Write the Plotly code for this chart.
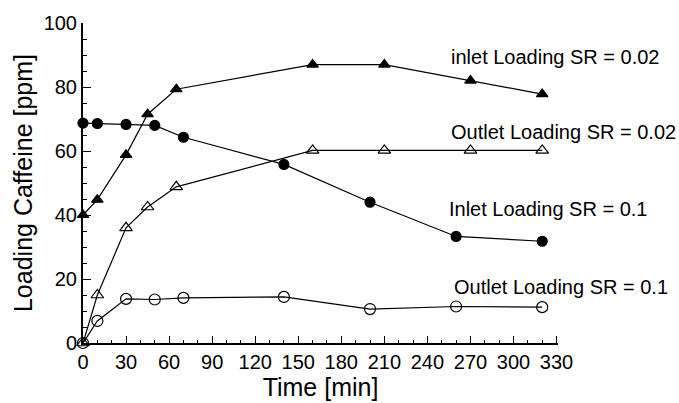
import plotly.graph_objects as go

t_tri = [0, 10, 30, 45, 65, 160, 210, 270, 320]
inlet_sr002 = [40, 44.8, 58.8, 71.5, 79.3, 87, 87, 82, 77.8]
outlet_sr002 = [0, 15, 36, 42.5, 48.8, 60.2, 60.2, 60.2, 60.2]

t_circ = [0, 10, 30, 50, 70, 140, 200, 260, 320]
inlet_sr01 = [68.7, 68.6, 68.3, 68, 64.3, 55.8, 44, 33.3, 31.8]
outlet_sr01 = [0, 6.9, 13.8, 13.6, 14.1, 14.4, 10.6, 11.4, 11.2]

labels = ["inlet Loading SR = 0.02", "Outlet Loading SR = 0.02",
          "Inlet Loading SR = 0.1", "Outlet Loading SR = 0.1"]
label_x = [255, 255, 253.5, 257]
label_y = [89.4, 65.9, 41.9, 17.5]

x_ticks = list(range(0, 331, 30))
y_ticks = list(range(0, 101, 20))

FONT = "Liberation Sans, Arial, sans-serif"

fig = go.Figure()

def add(x, y, symbol, size):
    fig.add_trace(go.Scatter(
        x=x, y=y, mode="lines+markers", cliponaxis=False,
        line=dict(color="black", width=1.2),
        marker=dict(symbol=symbol, size=size, color="black",
                    line=dict(color="black", width=1.2)),
        showlegend=False))

add(t_tri, inlet_sr002, "triangle-up", 10)
add(t_tri, outlet_sr002, "triangle-up-open", 11)
add(t_circ, inlet_sr01, "circle", 10)
add(t_circ, outlet_sr01, "circle-open", 11)

for txt, lx, ly in zip(labels, label_x, label_y):
    fig.add_annotation(x=lx, y=ly, xref="x", yref="y", text=txt,
                       showarrow=False, xanchor="left", yanchor="middle",
                       font=dict(family=FONT, size=20, color="black"))

fig.update_layout(
    width=679, height=403,
    margin=dict(l=83, r=121, t=23, b=60),
    paper_bgcolor="white", plot_bgcolor="white",
    font=dict(family=FONT, color="black"),
    xaxis=dict(range=[0, 331], tickvals=x_ticks, ticks="inside",
               ticklen=7, tickwidth=1, tickcolor="black",
               minor=dict(dtick=10, tick0=0, ticks="inside", ticklen=3,
                          tickcolor="black", tickwidth=1),
               showline=True, linecolor="black", linewidth=1.5,
               showgrid=False, zeroline=False, automargin=False,
               tickfont=dict(size=20, family=FONT),
               title=dict(text="Time [min]", font=dict(size=25, family=FONT),
                          standoff=4)),
    yaxis=dict(range=[0, 100], tickvals=y_ticks, ticks="inside",
               ticklen=8, tickwidth=1, tickcolor="black",
               minor=dict(dtick=5, tick0=0, ticks="inside", ticklen=4,
                          tickcolor="black", tickwidth=1),
               showline=True, linecolor="black", linewidth=2,
               showgrid=False, zeroline=False, automargin=False,
               tickfont=dict(size=20, family=FONT),
               title=dict(text="Loading Caffeine [ppm]",
                          font=dict(size=25, family=FONT), standoff=4)),
)

fig.write_html("out.html")
